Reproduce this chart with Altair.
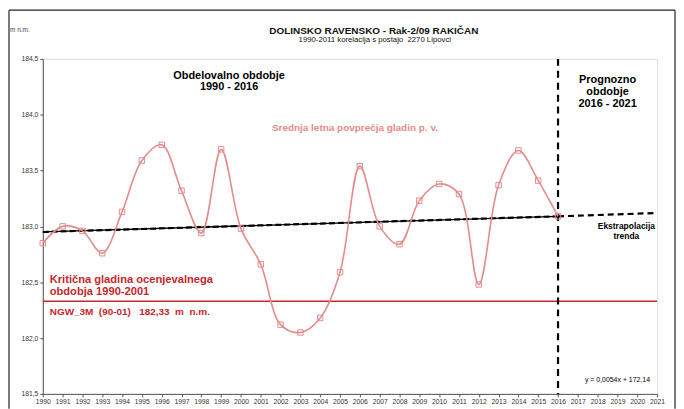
import altair as alt
import pandas as pd

years = list(range(1990, 2017))
levels = [182.85, 183.00, 182.96, 182.76, 183.13, 183.59, 183.73, 183.32, 182.94, 183.69,
          182.98, 182.66, 182.12, 182.05, 182.18, 182.59, 183.54, 183.00, 182.84, 183.23,
          183.38, 183.29, 182.48, 183.37, 183.68, 183.41, 183.09]

trend_years = [1990, 2016]
trend_vals = [182.95, 183.09]
ext_years = [2016, 2021]
ext_vals = [183.09, 183.12]

critical_level = 182.33
split_year = 2016
x_ticks = list(range(1990, 2022))
y_ticks = [181.5, 182.0, 182.5, 183.0, 183.5, 184.0, 184.5]

FONT = "Liberation Sans"
PINK = "#e38c8c"
RED = "#c8262c"
NB = "\u00a0"

df = pd.DataFrame({"year": years, "level": levels})
tdf = pd.DataFrame({"year": trend_years, "level": trend_vals})
edf = pd.DataFrame({"year": ext_years, "level": ext_vals})
rdf = pd.DataFrame({"year": [1990, 2021], "level": [critical_level, critical_level]})
one = pd.DataFrame({"k": [0]})

xs = alt.Scale(domain=[1990, 2021], nice=False, zero=False)
ys = alt.Scale(domain=[181.5, 184.5], nice=False, zero=False)

x_axis = alt.Axis(values=x_ticks, format="d", title=None,
                  labelFont=FONT, labelFontSize=6.8, labelColor="#333", tickColor="#555",
                  tickSize=3, domainColor="#555", grid=False, labelPadding=2,
                  labelOverlap=False, labelFlush=False)
y_axis = alt.Axis(values=y_ticks, title=None,
                  labelExpr="replace(format(datum.value, '.1f'), '.', ',')",
                  labelFont=FONT, labelFontSize=6.8, labelColor="#333", tickColor="#555",
                  tickSize=3, domainColor="#555", grid=False, labelOverlap=False,
                  labelFlush=False)

X = alt.X("year:Q", scale=xs, axis=x_axis)
Y = alt.Y("level:Q", scale=ys, axis=y_axis)


def XD(v):
    return alt.X(datum=v, type="quantitative", scale=xs, axis=x_axis)


def YD(v):
    return alt.Y(datum=v, type="quantitative", scale=ys, axis=y_axis)


def rule(x1, x2, y1, y2):
    return alt.Chart(one).mark_rule(color="#222", strokeWidth=1.2).encode(
        x=alt.value(x1), x2=alt.value(x2), y=alt.value(y1), y2=alt.value(y2))


frame = [rule(-34, -34, -49, 352), rule(-34, 636, -49, -49), rule(636, 636, -49, 352)]

series_line = alt.Chart(df).mark_line(color=PINK, strokeWidth=1.6,
                                      interpolate="catmull-rom").encode(x=X, y=Y)
series_pts = alt.Chart(df).mark_point(shape="square", filled=False, color=PINK,
                                      size=30, strokeWidth=1, opacity=1).encode(x=X, y=Y)

red_line = alt.Chart(rdf).mark_line(color=RED, strokeWidth=1.6).encode(x=X, y=Y)
trend_solid = alt.Chart(tdf).mark_line(color="#000", strokeWidth=1.3).encode(x=X, y=Y)
trend_dash = alt.Chart(tdf).mark_line(color="#000", strokeWidth=2.2,
                                      strokeDash=[6, 3]).encode(x=X, y=Y)
ext_dash = alt.Chart(edf).mark_line(color="#000", strokeWidth=2.2,
                                    strokeDash=[6, 4]).encode(x=X, y=Y)
vline = alt.Chart(one).mark_rule(color="#000", strokeWidth=2.2, strokeDash=[7, 5]).encode(
    x=XD(split_year), y=alt.value(0), y2=alt.value(337))


def txt(text, xv, yv, size, color="#000", weight="bold", align="center"):
    return alt.Chart(one).mark_text(text=text, font=FONT, fontSize=size, fontWeight=weight,
                                    color=color, align=align, baseline="middle").encode(
        x=XD(xv), y=YD(yv))


def ptxt(text, xp, yp, size, weight="bold", align="center", color="#111"):
    return alt.Chart(one).mark_text(text=text, font=FONT, fontSize=size, fontWeight=weight,
                                    color=color, align=align, baseline="middle").encode(
        x=alt.value(xp), y=alt.value(yp))


ngw = f"NGW_3M{NB}{NB}(90-01){NB}{NB}{NB}182,33{NB}{NB}m{NB}{NB}n.m."

texts = [
    ptxt("DOLINSKO RAVENSKO - Rak-2/09 RAKIČAN", 333, -28, 10),
    ptxt(f"1990-2011 korelacija s postajo{NB}{NB}2270 Lipovci", 334, -18.5, 7.8,
         weight="normal"),
    ptxt("m n.m.", -33, -29, 6.5, weight="normal", align="left", color="#444"),
    txt("Obdelovalno obdobje", 1999.4, 184.345, 11),
    txt("1990 - 2016", 1999.4, 184.245, 11),
    txt("Prognozno", 2018.5, 184.31, 11),
    txt("obdobje", 2018.5, 184.2, 11),
    txt("2016 - 2021", 2018.5, 184.1, 11),
    txt("Srednja letna povprečja gladin p. v.", 2005.75, 183.885, 10, color=PINK),
    txt("Ekstrapolacija", 2019.45, 183.0, 8.5),
    txt("trenda", 2019.45, 182.915, 8.5),
    txt("Kritična gladina ocenjevalnega", 1990.35, 182.52, 11.2, color=RED, align="left"),
    txt("obdobja 1990-2001", 1990.35, 182.41, 11.2, color=RED, align="left"),
    txt(ngw, 1990.35, 182.23, 10, color=RED, align="left"),
    txt("y = 0,0054x + 172,14", 2019.0, 181.62, 7, weight="normal"),
]

chart = alt.layer(*frame, red_line, trend_solid, trend_dash, ext_dash, vline,
                  series_line, series_pts, *texts).properties(
    width=618, height=337,
    padding={"left": 35, "top": 50, "right": 19, "bottom": 14},
    autosize=alt.AutoSizeParams(type="none"),
).configure_view(stroke="#c8c8c8", strokeWidth=1).configure(background="white")

chart.save("out.html", embed_options={"renderer": "svg", "actions": False})
